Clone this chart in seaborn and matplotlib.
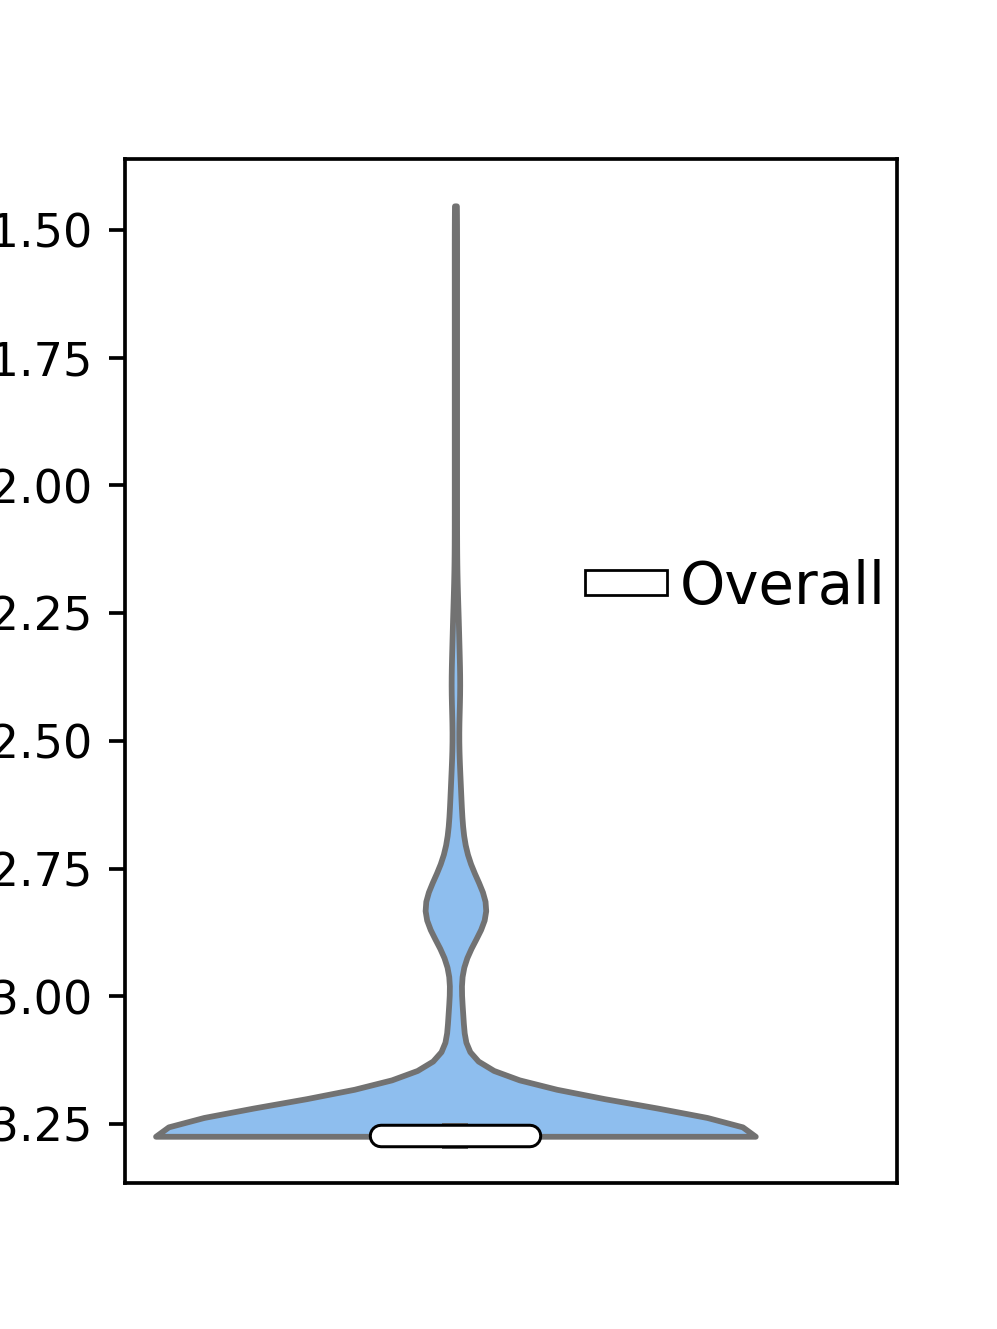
import numpy as np
import matplotlib
matplotlib.use("Agg")
import matplotlib.pyplot as plt
import matplotlib.patheffects as pe
from matplotlib.patches import Rectangle
import seaborn as sns

# observed scores (value -> how many times it occurs)
score_values = [-3.2735, -3.12, -3.08, -3.04, -2.99, -2.834, -2.76, -2.72,
                -2.66, -2.60, -2.54, -2.47, -2.40, -2.32, -2.25, -2.15,
                -2.05, -1.95, -1.85, -1.75, -1.65, -1.55, -1.453]
score_counts = [400, 2, 4, 4, 2, 38, 3, 4,
                3, 3, 2, 1, 4, 2, 2, 1,
                1, 1, 1, 1, 1, 1, 1]
group_label = "Overall"

scores = np.repeat(score_values, score_counts)

fig, ax = plt.subplots(figsize=(997.2 / 332.3, 1329.2 / 332.3), dpi=332.3)

sns.violinplot(y=scores, ax=ax, color="#8ebeee", saturation=1, cut=0,
               inner=None, width=0.776, bw_adjust=0.8, linewidth=1.25)
ylim = ax.get_ylim()
line_gray = ax.collections[0].get_edgecolor()[0]

# inner box: quartiles collapse on the minimum, so it is just a square + median bar
q1, med, q3 = np.percentile(scores, [25, 50, 75])
ax.plot([0, 0], [q1, q3], color=line_gray, marker="s", ms=5.6, mew=0,
        lw=5.6, zorder=3)
ax.plot([-0.0964, 0.0964], [med, med], color="white", lw=4.0,
        solid_capstyle="round", zorder=4,
        path_effects=[pe.Stroke(linewidth=5.3, foreground="black"), pe.Normal()])

ax.set_xlim(-0.428, 0.572)
ax.set_ylim(ylim)
ax.set_xticks([])

handle = Rectangle((0, 0), 1, 1, facecolor="white", edgecolor="black", linewidth=0.6)
ax.legend([handle], [group_label], loc="center right", bbox_to_anchor=(0.9844, 0.582),
          frameon=False, fontsize=12.5, borderaxespad=0, borderpad=0,
          handlelength=1.42, handleheight=0.294, handletextpad=0.215)

fig.savefig("out.png", dpi=332.3)
